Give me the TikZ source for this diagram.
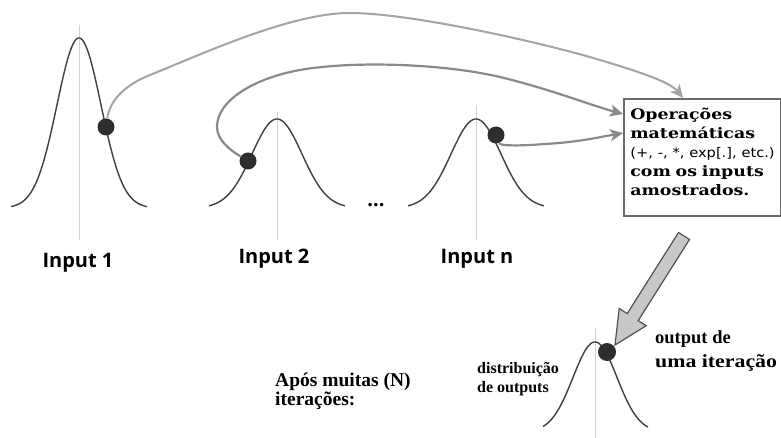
\documentclass[tikz,border=0pt]{standalone}
\usepackage{fontspec}
\usetikzlibrary{arrows.meta}
\newfontfamily\inpfont{Open Sans}
\newfontfamily\boxfont{DejaVu Serif}[FakeStretch=1.2, BoldFeatures={FakeStretch=1.2}]
\newfontfamily\parfont{DejaVu Sans}[FakeStretch=1.1]
\newfontfamily\tfont{Liberation Serif}
\definecolor{curvecol}{HTML}{404040}
\definecolor{vlinecol}{HTML}{D4D4D4}
\definecolor{dotcol}{HTML}{2E2E2E}
\definecolor{arcA}{HTML}{A4A4A4}
\definecolor{arcB}{HTML}{8A8A8A}
\definecolor{boxgray}{HTML}{6A6A6A}
\definecolor{fatfill}{HTML}{C8C8C8}
\definecolor{fatdraw}{HTML}{505050}
\tikzset{
  gauss/.style={draw=curvecol, line width=1.4pt},
  vline/.style={draw=vlinecol, line width=0.9pt},
  dotnode/.style={circle, fill=dotcol, inner sep=0pt, minimum size=17pt},
  bigdot/.style={circle, fill=dotcol, inner sep=0pt, minimum size=18pt},
  arcone/.style={draw=arcA, line width=2pt, -{Stealth[length=13pt,width=12pt,inset=3.5pt]}},
  arctwo/.style={draw=arcB, line width=2.2pt, -{Stealth[length=13pt,width=12pt,inset=3.5pt]}},
  inp/.style={font=\inpfont\bfseries\fontsize{20}{24}\selectfont, inner sep=0pt},
  opsbox/.style={draw=boxgray, line width=1.6pt, fill=white, text width=144pt,
     inner xsep=6.5pt, inner ysep=0pt, align=left,
     font=\boxfont\bfseries\fontsize{14.5}{19}\selectfont},
  ttext/.style={inner sep=0pt, font=\tfont\bfseries},
  fatarrow/.style={fill=fatfill, draw=fatdraw, line width=1.2pt, line join=miter}
}
\begin{document}
\begin{tikzpicture}[x=1pt,y=-1pt]
\useasboundingbox (0,0) rectangle (781,438);
\fill[white] (0,0) rectangle (781,438);

% vertical reference lines
\draw[vline] (79,25) -- (79,240);
\draw[vline] (277,112) -- (277,240);
\draw[vline] (476,105) -- (476,240);
\draw[vline] (595,328) -- (595,438);

% gaussian curves
\draw[gauss] plot[domain=-68:68, samples=100, smooth] ({79+\x},{208-170*exp(-((\x)*(\x))/968)});
\draw[gauss] plot[domain=-68:68, samples=100, smooth] ({277+\x},{208-89*exp(-((\x)*(\x))/1250)});
\draw[gauss] plot[domain=-68:68, samples=100, smooth] ({476+\x},{208-89*exp(-((\x)*(\x))/1250)});
\draw[gauss] plot[domain=-52:53, samples=100, smooth] ({595+\x},{432-90*exp(-((\x)*(\x))/968)});

% sample dots
\node[dotnode] (d1) at (106,127) {};
\node[dotnode] (d2) at (248,161) {};
\node[dotnode] (dn) at (496,135) {};

% box
\node[opsbox, anchor=north west] (ops) at (623,98)
  {\rule{0pt}{21pt}Operações\\
   matemáticas\\
   {\parfont\mdseries\fontsize{13.3}{19}\selectfont\mbox{(+, -, *, exp[.], etc.)}}\\
   com os inputs\\
   amostrados.\rule[-20pt]{0pt}{20pt}};

% connectors
\draw[arcone] (d1) .. controls (110,100) and (125,85) .. (150,75)
   .. controls (200,55) and (290,13) .. (350,13)
   .. controls (410,13) and (540,42) .. (600,60)
   .. controls (640,72) and (670,82) .. ([xshift=60pt]ops.north west);
\draw[arctwo] (d2) .. controls (230,150) and (217,140) .. (217,127)
   .. controls (217,100) and (255,78) .. (300,70)
   .. controls (350,61) and (440,63) .. (500,77)
   .. controls (550,89) and (590,105) .. ([yshift=-16pt]ops.north west);
\draw[arctwo] (dn) .. controls (500,146) and (520,146) .. (545,144)
   .. controls (580,142) and (600,137) .. ([yshift=-35pt]ops.north west);

% labels
\node[inp, anchor=base] (l1) at (78,267) {Input 1};
\node[inp, anchor=base] (l2) at (274,263) {Input 2};
\node[inp, anchor=base] (ln) at (477,263) {Input n};
\node[inp, anchor=base] (ell) at (376,207) {...};

% fat arrow to output
\draw[fatarrow] (615,345) -- (619.2,308.5) -- (627.2,313.6) -- (678.5,232.5)
   -- (689.5,239.5) -- (638.2,320.6) -- (646.2,325.7) -- cycle;
\node[bigdot] (dout) at (607,352) {};

% texts near output
\node[ttext, anchor=base west, font=\tfont\bfseries\fontsize{18.5}{22}\selectfont] (o1) at (655,343) {output de};
\node[ttext, anchor=base west, font=\tfont\bfseries\fontsize{18.5}{22}\selectfont] (o2) at (655,367) {\scalebox{1.18}[1]{uma iteração}};
\node[ttext, anchor=base west, font=\tfont\bfseries\fontsize{16}{18}\selectfont] (s1) at (477,373) {distribuição};
\node[ttext, anchor=base west, font=\tfont\bfseries\fontsize{16}{18}\selectfont] (s2) at (477,392) {de outputs};
\node[ttext, anchor=base west, font=\tfont\bfseries\fontsize{19.5}{22}\selectfont] (a1) at (275,386) {Após muitas (N)};
\node[ttext, anchor=base west, font=\tfont\bfseries\fontsize{19.5}{22}\selectfont] (a2) at (275,405) {iterações:};
\end{tikzpicture}
\end{document}
